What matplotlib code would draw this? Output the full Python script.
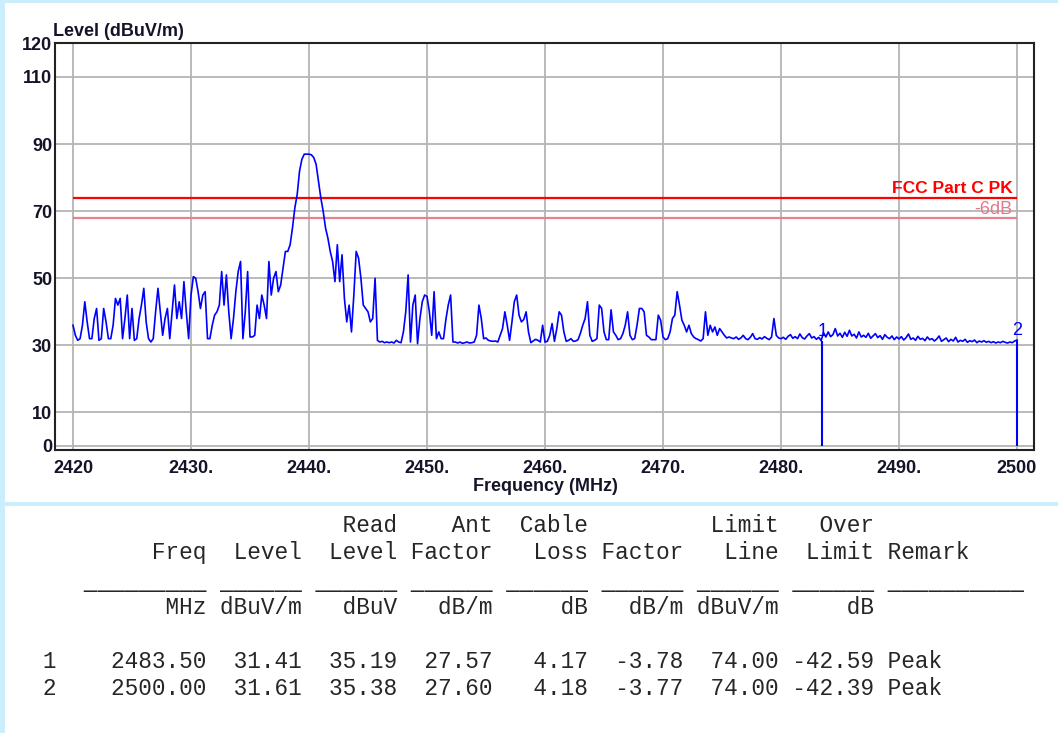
"""Radiated emission spectrum 2420-2500 MHz with FCC limit lines and marker table."""

import matplotlib
import matplotlib.pyplot as plt
import numpy as np
from matplotlib.patches import Rectangle

matplotlib.use('Agg')

# sweep: level read every 0.2 MHz from 2420 to 2500 MHz
FREQ_START = 2420.0
FREQ_STEP = 0.2
LEVELS = [
    36, 33, 31.5, 32, 36, 43, 37, 32, 32, 38,
    41, 31.5, 32, 41, 37, 32, 32, 36, 44, 42,
    44, 32, 38, 45, 32, 41, 31.5, 32, 38, 42,
    47, 37, 32, 31, 32, 40, 47, 40, 33, 38,
    41, 32, 40, 48, 38, 43, 38, 49, 40, 32,
    45, 50.5, 50, 46, 41, 45, 46, 32, 32, 36,
    39, 40, 42, 52, 42, 51, 40, 32, 38, 46,
    52, 55, 32, 40, 52, 32.5, 32.5, 33, 42, 38,
    45, 42, 38, 55, 45, 50, 52, 46, 48, 53,
    58, 58, 60, 65, 71, 75, 82, 85.5, 87, 87,
    87, 86.8, 86, 84, 79, 74, 70, 65, 62, 58,
    55, 49, 60, 49, 57, 44, 37, 42, 34, 45,
    58, 56, 50, 42, 41, 40, 37, 38, 50, 31.5,
    31, 31.2, 30.8, 31, 30.8, 31, 30.7, 31.5, 31, 30.8,
    34, 40, 51, 31, 42, 45, 30.5, 38, 43, 45,
    44.6, 40, 33, 46, 32, 34, 32, 32, 37.7, 42,
    45, 31, 31, 30.7, 31, 30.6, 30.8, 31, 30.7, 30.8,
    31, 33, 42, 38, 32, 32.2, 31.5, 31.3, 31.2, 31.3,
    31, 33, 35, 40, 36, 31.5, 37, 43, 45, 39,
    37, 37.7, 40, 34, 30.8, 31.3, 31.8, 31.5, 31, 36,
    31, 31.2, 33, 36.5, 31.2, 35, 40, 39, 34, 31.2,
    31.5, 32, 31.2, 31.3, 31.7, 33.6, 36, 38, 43, 33,
    31.2, 31.5, 32, 42, 41, 34, 31.7, 31.7, 40.6, 34,
    33, 31.7, 32, 33.5, 36, 40, 33, 31.7, 32, 36,
    41, 41, 40, 33, 32.5, 31.7, 31.7, 31.7, 39, 37.5,
    32.5, 31.7, 32, 34, 38, 39, 46, 42, 37.5, 36,
    34, 36, 33.5, 32.5, 32, 31.7, 31.3, 32, 40, 33,
    36, 34, 35.5, 33, 35, 34, 33, 32.2, 32.5, 32.2,
    32, 32.5, 31.8, 32.2, 33, 32, 31.7, 32.4, 33.5, 32,
    31.8, 32.3, 31.9, 32.6, 32.1, 31.7, 32.5, 38, 33, 32.2,
    32, 32.4, 31.8, 32.7, 33.2, 32.1, 32.6, 32, 33.4, 32.3,
    31.9, 32.8, 33.5, 32.2, 32.6, 31.8, 32.4, 31.4, 33.8, 32.5,
    34, 32.6, 33.2, 35, 32.8, 33.6, 32.4, 33.9, 32.7, 34.5,
    32.8, 33.3, 32.2, 34, 32.5, 33, 32.4, 33.6, 32.1, 32.8,
    33.5, 32.3, 32.9, 31.8, 33.2, 32.4, 32, 32.8, 31.7, 32.5,
    31.9, 32.6, 31.6, 32.3, 33.4, 31.8, 32.2, 31.5, 32.7, 31.8,
    32.1, 31.4, 32.5, 31.7, 32, 31.3, 31.9, 32.8, 31.2, 31.7,
    32.2, 31.1, 31.8, 31.3, 32.4, 31, 31.5, 31.2, 31.8, 30.9,
    31.4, 31.1, 31.6, 30.8, 31.3, 31, 31.4, 30.9, 31.2, 30.8,
    31.1, 30.7, 31, 30.8, 31.2, 30.9, 30.7, 31, 30.8, 31.3,
    31.61,
]

XTICKS = [2420, 2430, 2440, 2450, 2460, 2470, 2480, 2490, 2500]
XTICK_LABELS = ['2420', '2430.', '2440.', '2450.', '2460.', '2470.', '2480.', '2490.', '2500']
YTICKS = [0, 10, 30, 50, 70, 90, 110, 120]

LIMIT_PK = 74.0
LIMIT_MARGIN = 6.0
LIMIT_LABEL = 'FCC Part C PK'
MARGIN_LABEL = '-6dB'

# marker table
MARKER_IDS = [1, 2]
MARKER_FREQ = [2483.50, 2500.00]
MARKER_LEVEL = [31.41, 31.61]
READ_LEVEL = [35.19, 35.38]
ANT_FACTOR = [27.57, 27.60]
CABLE_LOSS = [4.17, 4.18]
FACTOR = [-3.78, -3.77]
LIMIT_LINE = [74.00, 74.00]
OVER_LIMIT = [-42.59, -42.39]
REMARK = ['Peak', 'Peak']

W, H = 1058, 733
BG = '#cbeefc'
TXT = '#141428'


def fx(x):
    return x / W


def fy(y):
    return 1 - y / H


def main() -> None:
    plt.rcParams['font.family'] = ['Liberation Sans', 'DejaVu Sans']

    fig = plt.figure(figsize=(W / 100, H / 100), dpi=100, facecolor=BG)
    for (x0, y0, x1, y1) in [(5, 3, 1058, 502), (5, 506, 1058, 733)]:
        fig.add_artist(Rectangle((fx(x0), fy(y1)), fx(x1) - fx(x0), (y1 - y0) / H,
                                 transform=fig.transFigure, facecolor='white',
                                 edgecolor='none', zorder=0))

    # plot frame is a bit wider than the 2420..2500 / 0..120 data range
    left, right, top, bottom = 55, 1034, 43, 450
    x0px, x1px = 73, 1017
    y0px, y110px = 446, 77
    ppm = (x1px - x0px) / 80.0
    ppd = (y0px - y110px) / 110.0
    ax = fig.add_axes([fx(left), fy(bottom), fx(right) - fx(left), (bottom - top) / H])
    ax.set_xlim(2420 - (x0px - left) / ppm, 2500 + (right - x1px) / ppm)
    ax.set_ylim(0 - (bottom - y0px) / ppd, 110 + (y110px - top) / ppd)

    ax.set_xticks(XTICKS)
    ax.set_xticklabels(XTICK_LABELS)
    ax.set_yticks(YTICKS)
    ax.grid(True, color='#b4b4b4', lw=1.3)
    ax.set_axisbelow(True)
    ax.tick_params(length=0, labelsize=13, labelcolor=TXT)
    ax.tick_params(axis='x', pad=7)
    ax.tick_params(axis='y', pad=2)
    for lab in ax.get_xticklabels() + ax.get_yticklabels():
        lab.set_fontweight('bold')
    for sp in ax.spines.values():
        sp.set_color('#222222')
        sp.set_linewidth(1.5)

    freqs = FREQ_START + FREQ_STEP * np.arange(len(LEVELS))
    ax.plot(freqs, LEVELS, color='#0000ff', lw=1.2, zorder=3)

    ax.hlines(LIMIT_PK, 2420, 2500, color='#ff0000', lw=1.6, zorder=2)
    ax.hlines(LIMIT_PK - LIMIT_MARGIN, 2420, 2500, color='#e8808f', lw=1.6, zorder=2)
    ax.text(2499.6, LIMIT_PK + 1.4, LIMIT_LABEL, color='#ff0000', fontsize=12.5,
            fontweight='bold', ha='right', va='baseline')
    ax.text(2499.6, LIMIT_PK - LIMIT_MARGIN + 1.2, MARGIN_LABEL, color='#e07a8a',
            fontsize=13, ha='right', va='baseline')

    ax.vlines(MARKER_FREQ, 0, MARKER_LEVEL, color='#0000ff', lw=1.5, zorder=3)
    for mid, mf, ml in zip(MARKER_IDS, MARKER_FREQ, MARKER_LEVEL):
        ax.text(mf, ml + 1.4, str(mid), color='#0000ff', fontsize=13,
                ha='center', va='baseline', zorder=4)

    fig.text(fx(53), fy(36), 'Level (dBuV/m)', fontsize=13, fontweight='bold',
             color=TXT, ha='left', va='baseline')
    fig.text(fx(545), fy(491), 'Frequency (MHz)', fontsize=13, fontweight='bold',
             color=TXT, ha='center', va='baseline')

    # marker table, fixed-width columns
    head1 = f"{'':>15}{'':>7}{'Read':>7}{'Ant':>7}{'Cable':>7}{'':>7}{'Limit':>7}{'Over':>7}"
    head2 = (f"{'Freq':>15}{'Level':>7}{'Level':>7}{'Factor':>7}{'Loss':>7}"
             f"{'Factor':>7}{'Line':>7}{'Limit':>7} Remark")
    rule = ' ' * 6 + '_' * 9 + (' ' + '_' * 6) * 7 + ' ' + '_' * 10
    units = f"{'MHz':>15}{'dBuV/m':>7}{'dBuV':>7}{'dB/m':>7}{'dB':>7}{'dB/m':>7}{'dBuV/m':>7}{'dB':>7}"
    rows = []
    for i in range(len(MARKER_IDS)):
        rows.append(f"{MARKER_IDS[i]:>4}{MARKER_FREQ[i]:11.2f}{MARKER_LEVEL[i]:7.2f}"
                    f"{READ_LEVEL[i]:7.2f}{ANT_FACTOR[i]:7.2f}{CABLE_LOSS[i]:7.2f}"
                    f"{FACTOR[i]:7.2f}{LIMIT_LINE[i]:7.2f}{OVER_LIMIT[i]:7.2f} {REMARK[i]}")

    lines = [(head1, 532), (head2, 559), (rule, 589), (units, 614)]
    lines += [(r, 668 + 27 * k) for k, r in enumerate(rows)]
    for s, ybase in lines:
        fig.text(fx(2.5), fy(ybase), s, family='Liberation Mono', fontsize=16.4,
                 color='#262626', ha='left', va='baseline')

    fig.savefig('out.png', dpi=100, facecolor=BG)
    plt.close(fig)


if __name__ == '__main__':
    main()
